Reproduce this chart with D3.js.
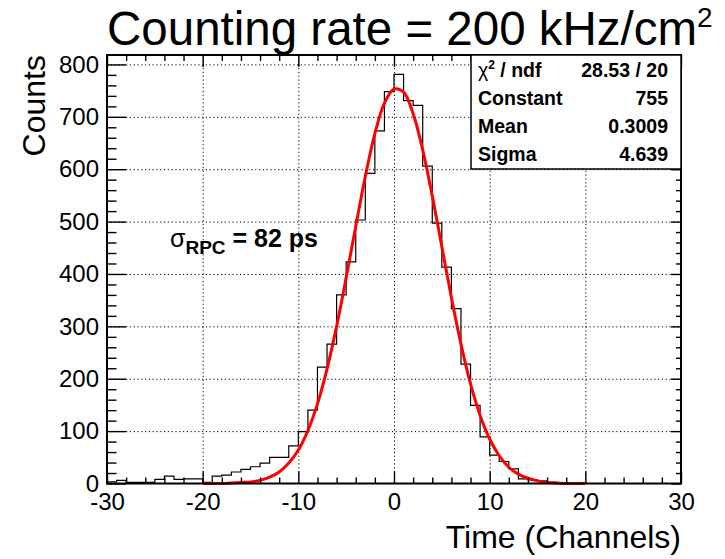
<!DOCTYPE html>
<html>
<head>
<meta charset="utf-8">
<script src="https://cdn.jsdelivr.net/npm/d3@7"></script>
<style>
  body { margin: 0; background: #fff; }
  svg { font-family: "Liberation Sans", Arial, sans-serif; }
  .grid line { stroke: #000; stroke-width: 1; stroke-dasharray: 1.2,2.6; }
  .grid path { display: none; }
  .ticks path { display: none; }
  .ticks line { stroke: #000; stroke-width: 1.4; }
  .lab path, .lab line { display: none; }
  .lab text { font-size: 24px; fill: #000; font-family: "Liberation Sans", Arial, sans-serif; }
</style>
</head>
<body>
<svg id="chart" width="725" height="559"></svg>
<script>
// histogram: 60 bins of width 1 channel, lower edges -30 .. 29
var binEdges = d3.range(-30, 30);
var counts = [3, 6, 2, 2, 2, 8, 14, 8, 9, 9,
              2, 14, 16, 22, 27, 32, 39, 50, 50, 72,
              99, 140, 222, 266, 360, 423, 503, 592, 673, 748,
              781, 731, 722, 606, 497, 413, 334, 228, 149, 89,
              54, 42, 28, 9, 7, 5, 2, 1, 1, 0,
              0, 0, 0, 0, 0, 0, 0, 0, 0, 0];

// red gaussian fit, read at each channel from -20 to 20
var fitX = d3.range(-20, 21);
var fitY = [0, 0, 0, 1, 2, 3, 6, 12, 22, 39,
            64, 101, 152, 219, 300, 393, 491, 586, 668, 726,
            753, 747, 706, 637, 549, 452, 355, 266, 190, 130,
            85, 53, 31, 18, 10, 5, 2, 1, 0, 0, 0];

var xTicks = [-30, -20, -10, 0, 10, 20, 30];
var yTicks = [0, 100, 200, 300, 400, 500, 600, 700, 800];
var statNames = ["Constant", "Mean", "Sigma"];
var statValues = ["755", "0.3009", "4.639"];
var chiText = "28.53 / 20";

var pLeft = 107, pRight = 681, pTop = 55, pBottom = 483.5;
var xScale = d3.scaleLinear().domain([-30, 30]).range([pLeft, pRight]);
var yScale = d3.scaleLinear().domain([0, 818]).range([pBottom, pTop]);

var svg = d3.select("#chart");

// grid
svg.append('g').attr('class', 'grid').attr('transform', 'translate(0,' + pBottom + ')')
  .call(d3.axisBottom(xScale).tickValues(xTicks.slice(1, -1)).tickSize(-(pBottom - pTop)).tickFormat(''));
svg.append('g').attr('class', 'grid').attr('transform', 'translate(' + pLeft + ',0)')
  .call(d3.axisLeft(yScale).tickValues(yTicks.slice(1)).tickSize(-(pRight - pLeft)).tickFormat(''));

// histogram outline
var histPts = binEdges.map(function(e, i) { return [e, counts[i]]; });
histPts.push([30, counts[counts.length - 1]]);
svg.append('path')
  .attr('d', d3.line().curve(d3.curveStepAfter)
    .x(function(d) { return xScale(d[0]); })
    .y(function(d) { return yScale(d[1]); })(histPts))
  .attr('fill', 'none').attr('stroke', '#000').attr('stroke-width', 1.2);

// fit curve
svg.append('path')
  .attr('d', d3.line().curve(d3.curveCatmullRom.alpha(0.5))
    .x(function(d, i) { return xScale(fitX[i]); })
    .y(function(d) { return yScale(Math.max(0, d)); })(fitY))
  .attr('fill', 'none').attr('stroke', '#ff0000').attr('stroke-width', 3);

// ticks (inside the frame)
var xMinor = d3.range(-30, 31, 2).filter(function(v) { return v % 10 !== 0; });
var yMinor = d3.range(0, 818, 20).filter(function(v) { return v % 100 !== 0; });
svg.append('g').attr('class', 'ticks').attr('transform', 'translate(0,' + pBottom + ')')
  .call(d3.axisBottom(xScale).tickValues(xTicks).tickSize(-12).tickFormat(''));
svg.append('g').attr('class', 'ticks').attr('transform', 'translate(0,' + pBottom + ')')
  .call(d3.axisBottom(xScale).tickValues(xMinor).tickSize(-6).tickFormat(''));
svg.append('g').attr('class', 'ticks').attr('transform', 'translate(0,' + pTop + ')')
  .call(d3.axisTop(xScale).tickValues(xTicks).tickSize(-12).tickFormat(''));
svg.append('g').attr('class', 'ticks').attr('transform', 'translate(0,' + pTop + ')')
  .call(d3.axisTop(xScale).tickValues(xMinor).tickSize(-6).tickFormat(''));
svg.append('g').attr('class', 'ticks').attr('transform', 'translate(' + pLeft + ',0)')
  .call(d3.axisLeft(yScale).tickValues(yTicks).tickSize(-19).tickFormat(''));
svg.append('g').attr('class', 'ticks').attr('transform', 'translate(' + pLeft + ',0)')
  .call(d3.axisLeft(yScale).tickValues(yMinor).tickSize(-9.5).tickFormat(''));
svg.append('g').attr('class', 'ticks').attr('transform', 'translate(' + pRight + ',0)')
  .call(d3.axisRight(yScale).tickValues(yTicks).tickSize(-10).tickFormat(''));
svg.append('g').attr('class', 'ticks').attr('transform', 'translate(' + pRight + ',0)')
  .call(d3.axisRight(yScale).tickValues(yMinor).tickSize(-5).tickFormat(''));

// frame
svg.append('rect').attr('x', pLeft).attr('y', pTop).attr('width', pRight - pLeft).attr('height', pBottom - pTop)
  .attr('fill', 'none').attr('stroke', '#000').attr('stroke-width', 2);

// tick labels
svg.append('g').attr('class', 'lab').attr('transform', 'translate(0,' + pBottom + ')')
  .call(d3.axisBottom(xScale).tickValues(xTicks).tickSize(0).tickPadding(9).tickFormat(function(d) { return String(d); }));
svg.append('g').attr('class', 'lab').attr('transform', 'translate(' + pLeft + ',0)')
  .call(d3.axisLeft(yScale).tickValues(yTicks).tickSize(0).tickPadding(8).tickFormat(function(d) { return String(d); }));

// axis titles
svg.append('text').attr('x', pRight).attr('y', 548).attr('text-anchor', 'end')
  .attr('font-size', 32).text("Time (Channels)");
svg.append('text').attr('transform', 'translate(45,' + pTop + ') rotate(-90)').attr('text-anchor', 'end')
  .attr('font-size', 32).text("Counts");

// title
var title = svg.append('text').attr('x', pLeft).attr('y', 45).attr('font-size', 47.5);
title.append('tspan').text("Counting rate = 200 kHz/cm");
title.append('tspan').attr('font-size', 28).attr('dy', -18).text("2");

// sigma annotation
var sig = svg.append('text').attr('x', 170).attr('y', 247).attr('font-weight', 'bold').attr('font-size', 25);
sig.append('tspan').attr('font-weight', 'normal').text("σ");
sig.append('tspan').attr('font-size', 19).attr('dy', 7).text("RPC");
sig.append('tspan').attr('dy', -7).text(" = 82 ps");

// stats box
var boxX = 471, boxY = pTop, boxW = pRight - 471, boxH = 114;
svg.append('rect').attr('x', boxX).attr('y', boxY).attr('width', boxW).attr('height', boxH)
  .attr('fill', '#fff').attr('stroke', '#000').attr('stroke-width', 1.5);
var rowY = [77, 105, 133, 161];
var chi = svg.append('text').attr('x', 478).attr('y', rowY[0]).attr('font-size', 19.5).attr('font-weight', 'bold');
chi.append('tspan').attr('font-weight', 'normal').text("χ");
chi.append('tspan').attr('font-size', 12).attr('dy', -8).text("2");
chi.append('tspan').attr('dy', 8).text(" / ndf");
svg.append('text').attr('x', 668).attr('y', rowY[0]).attr('text-anchor', 'end')
  .attr('font-size', 19.5).attr('font-weight', 'bold').text(chiText);
statNames.forEach(function(n, i) {
  svg.append('text').attr('x', 478).attr('y', rowY[i + 1]).attr('font-size', 19.5).attr('font-weight', 'bold').text(n);
  svg.append('text').attr('x', 668).attr('y', rowY[i + 1]).attr('text-anchor', 'end')
    .attr('font-size', 19.5).attr('font-weight', 'bold').text(statValues[i]);
});
</script>
</body>
</html>
